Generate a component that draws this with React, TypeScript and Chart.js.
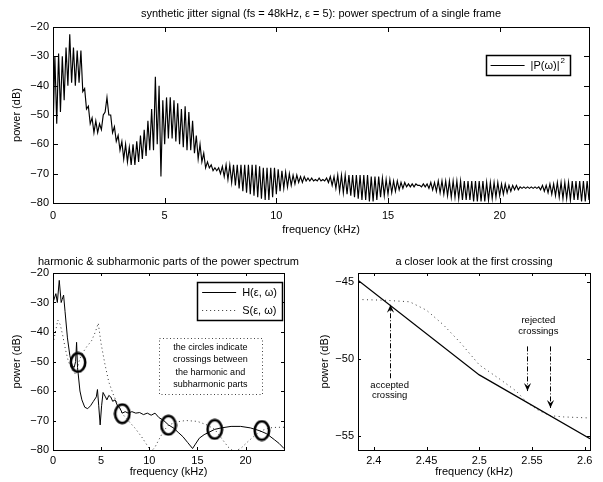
import React, { useEffect, useRef } from "react";
import { Chart, registerables } from "chart.js";

Chart.register(...registerables);

const FONT = "'Liberation Sans', Arial, Helvetica, sans-serif";

// ---------------- top panel data ----------------
const spectrumStepKHz = 1 / 12;
const spectrumDb = [
  -56, -30, -53, -29, -49, -30, -45, -27, -40, -22.5, -39, -27,
  -40, -28, -39, -28, -42, -41, -48, -47, -53, -51, -56, -52,
  -56, -53, -55, -50, -49, -44, -50, -50, -56, -54, -59, -57,
  -62, -59, -65, -60, -66, -61, -67, -60, -67, -59, -66, -57,
  -65, -55, -64, -52, -62, -48, -62, -37, -60, -40, -71, -45,
  -60, -44, -58, -44, -58, -45, -59, -46, -60, -48, -61, -47,
  -62, -49, -62, -52, -63, -57, -65, -60, -66, -63, -68, -66,
  -68, -67, -69, -68, -69, -68, -70, -67.5, -71, -67, -72, -67,
  -73, -67, -74, -67, -75, -67, -76, -67, -76.5, -67, -77, -67,
  -77.5, -67, -78, -67.5, -78.5, -68, -79, -68, -79, -68, -78, -68,
  -77, -68.5, -76, -69, -75, -69.5, -74.5, -70, -74, -70.5, -73.5, -70.5,
  -73, -71, -73, -71, -72.5, -71.5, -72.5, -71.5, -72.5, -72, -72.5, -71.5,
  -72.5, -72, -72.5, -71.5, -73, -71, -74, -71, -75, -70.5, -76, -70.5,
  -76.5, -70.5, -77, -70.5, -77.5, -70.5, -78, -70.5, -78.5, -70.5, -79, -70.5,
  -79, -70.5, -79.5, -71, -79.5, -71, -79, -71, -78, -71.5, -77.5, -72,
  -77, -72, -76.5, -72.5, -76, -72.5, -75.5, -73, -75, -73, -74.5, -73.5,
  -74.5, -73.5, -74.5, -73.5, -74, -74, -74.5, -73.5, -74.5, -73.5, -75, -73,
  -75.5, -73, -76, -72.5, -76.5, -72.5, -77, -72.5, -77.5, -72.5, -78, -72.5,
  -78, -72.5, -78.5, -72.5, -79, -72.5, -79, -72.5, -79, -72.5, -79.5, -72.5,
  -79.5, -72.5, -79.5, -72.5, -79.5, -73, -79, -73, -78.5, -73, -78, -73,
  -77.5, -73.5, -77, -73.5, -76.5, -74, -76, -74, -75.5, -74, -75.5, -74.5,
  -75, -74.5, -75, -74.5, -75, -74.5, -75, -74.5, -75, -74.5, -75.5, -74,
  -76, -74, -76.5, -73.5, -77, -73.5, -77.5, -73, -78, -73, -78.5, -73,
  -78.5, -73, -79, -72.5, -79, -72.5, -79, -72.5, -79.5, -72.5, -79.5, -72.5,
  -79,
];
const topXTicks = [0, 5, 10, 15, 20];
const topYTicks = [-80, -70, -60, -50, -40, -30, -20];

// ---------------- bottom-left panel data ----------------
const harmonicFreq = [
  0, 0.15, 0.3, 0.45, 0.65, 0.85, 0.95, 1.1, 1.25, 1.5, 1.75, 2.0, 2.2, 2.35, 2.45, 2.55,
  2.8, 3.0, 3.3, 3.6, 3.9, 4.2, 4.5, 4.62, 4.75, 4.9, 5.05, 5.2, 5.45, 5.6, 5.8, 6.0,
  6.2, 6.45, 6.7, 6.9, 7.2, 7.5, 7.8, 8.2, 8.6, 9.0, 9.4, 9.8, 10.2, 10.6, 11.0, 11.5,
  12.0, 12.5, 13.0, 13.5, 14.0, 14.5, 14.8, 15.2, 15.7, 16.2, 16.8, 17.5, 18.5, 19.5,
  20.5, 21.5, 22.2, 23.0, 23.5, 24.0,
];
const harmonicDb = [
  -30, -28.5, -27, -30, -22.5, -30, -29, -27.5, -33, -42, -48, -51.5, -52, -50, -43.5, -52,
  -60, -63, -65.5, -66, -65, -63.5, -62, -59.5, -65, -71.5, -65, -60.5, -62, -63, -61.5, -62,
  -63.5, -63, -65, -65.5, -67.5, -67, -67.5, -67, -67.5, -67.3, -68, -67.5, -68.2, -67.5, -69, -70,
  -71.5, -72.5, -74, -75.5, -77.5, -79.5, -78, -76, -74.8, -74, -73, -72.5, -72, -72,
  -72.5, -73.5, -74.5, -76.5, -77.8, -79.5,
];
const subharmonicFreq = [
  0, 0.25, 0.5, 0.75, 1.0, 1.3, 1.6, 2.0, 2.4, 2.7, 3.0, 3.5, 4.0, 4.4, 4.7, 5.0,
  5.4, 5.8, 6.3, 6.8, 7.2, 7.8, 8.5, 9.2, 9.8, 10.2, 10.6, 11.0, 11.5, 12.0, 12.8, 13.8,
  15.0, 16.0, 16.8, 17.5, 18.2, 18.8, 19.5, 20.3, 21.0, 21.7, 22.5, 23.3, 24.0,
];
const subharmonicDb = [
  -44, -40, -36, -37.5, -41, -46, -50, -53, -54.5, -50, -47.5, -45, -43, -40, -37, -44,
  -51, -57, -61.5, -65, -67.7, -70, -72.5, -75.5, -78.5, -80.5, -79, -76.5, -73.5, -71.6, -70.5, -70,
  -70.3, -71.5, -73, -76, -79, -80.5, -79.5, -77, -75, -73.4, -72.5, -72.3, -72.3,
];
const crossingFreq = [2.6, 7.2, 12.0, 16.8, 21.7];
const crossingDb = [-50.3, -67.7, -71.6, -73.0, -73.4];
const bottomYTicks = [-80, -70, -60, -50, -40, -30, -20];
const noteLines = [
  "the circles indicate",
  "crossings between",
  "the harmonic and",
  "subharmonic parts",
];

// ---------------- bottom-right panel data ----------------
const zoomHFreq = [2.385, 2.5, 2.605];
const zoomHDb = [-44.9, -51.05, -55.2];
const zoomSFreq = [2.385, 2.41, 2.434, 2.45, 2.466, 2.482, 2.5, 2.52, 2.535, 2.545, 2.556, 2.567, 2.58, 2.605];
const zoomSDb = [-46.15, -46.2, -46.3, -46.85, -47.8, -48.95, -50.4, -51.35, -52.1, -52.83, -53.35, -53.7, -53.78, -53.85];
const zoomXTicks = [2.4, 2.45, 2.5, 2.55, 2.6];
const zoomYTicks = [-55, -50, -45];
const acceptedCrossing = 2.415;
const rejectedCrossings = [2.545, 2.567];

// ---------------- helpers ----------------
const pts = (xs: number[], ys: number[]) => xs.map((x, i) => ({ x, y: ys[i] }));
const fmt = (v: number) => String(v).replace("-", "\u2212");

function makeRing(w: number, h: number, lw: number) {
  const c = document.createElement("canvas");
  c.width = w;
  c.height = h;
  const g = c.getContext("2d")!;
  g.strokeStyle = "#000";
  g.lineWidth = lw;
  g.beginPath();
  g.ellipse(w / 2, h / 2, w / 2 - lw / 2 - 0.5, h / 2 - lw / 2 - 0.5, 0, 0, Math.PI * 2);
  g.stroke();
  return c;
}

const framePlugin = {
  id: "matlabFrame",
  afterDatasetsDraw(chart: any, _a: any, opts: any) {
    const { ctx, chartArea: a, scales } = chart;
    const len = opts.tickLen ?? 4;
    ctx.save();
    ctx.strokeStyle = "#000";
    ctx.lineWidth = 1;
    ctx.beginPath();
    const xs = scales.x, ys = scales.y;
    xs.ticks.forEach((t: any) => {
      const px = Math.round(xs.getPixelForValue(t.value)) + 0.5;
      ctx.moveTo(px, a.bottom);
      ctx.lineTo(px, a.bottom - len);
      ctx.moveTo(px, a.top);
      ctx.lineTo(px, a.top + len);
    });
    ys.ticks.forEach((t: any) => {
      const py = Math.round(ys.getPixelForValue(t.value)) + 0.5;
      ctx.moveTo(a.left, py);
      ctx.lineTo(a.left + len, py);
      ctx.moveTo(a.right, py);
      ctx.lineTo(a.right - len, py);
    });
    ctx.stroke();
    ctx.strokeRect(Math.round(a.left) + 0.5, Math.round(a.top) + 0.5, Math.round(a.right - a.left), Math.round(a.bottom - a.top));
    if (opts.title) {
      ctx.fillStyle = "#000";
      ctx.font = `11px ${FONT}`;
      ctx.textAlign = "center";
      ctx.textBaseline = "middle";
      ctx.fillText(opts.title, (a.left + a.right) / 2, a.top - opts.titleOffset);
    }
    ctx.restore();
  },
};

function measureLabel(ctx: any, label: string) {
  const [base, sup] = label.split("^");
  ctx.font = `11px ${FONT}`;
  let w = ctx.measureText(base).width;
  if (sup) {
    ctx.font = `8px ${FONT}`;
    w += ctx.measureText(sup).width + 1;
  }
  return w;
}

const legendPlugin = {
  id: "boxLegend",
  afterDraw(chart: any, _a: any, opts: any) {
    if (!opts.items) return;
    const { ctx, chartArea: a } = chart;
    const ds = opts.items.map((i: number) => chart.data.datasets[i]);
    ctx.save();
    const textW = Math.max(...ds.map((d: any) => measureLabel(ctx, d.label)));
    const lineLen = 34, pad = 5, gap = 6, rowH = 18;
    const w = pad + lineLen + gap + textW + pad;
    const h = ds.length * rowH + 2;
    const right = a.right - opts.right;
    const top = a.top + opts.top;
    const left = right - w;
    ctx.fillStyle = "#fff";
    ctx.fillRect(left, top, w, h);
    ctx.strokeStyle = "#000";
    ctx.lineWidth = 1.5;
    ctx.strokeRect(Math.round(left) + 0.5, Math.round(top) + 0.5, Math.round(w), Math.round(h));
    ds.forEach((d: any, i: number) => {
      const cy = top + 1 + rowH / 2 + i * rowH;
      ctx.beginPath();
      ctx.strokeStyle = d.borderColor;
      ctx.lineWidth = d.borderWidth;
      ctx.setLineDash(d.borderDash || []);
      ctx.moveTo(left + pad, Math.round(cy) + 0.5);
      ctx.lineTo(left + pad + lineLen, Math.round(cy) + 0.5);
      ctx.stroke();
      ctx.setLineDash([]);
      const [base, sup] = d.label.split("^");
      ctx.fillStyle = "#000";
      ctx.textAlign = "left";
      ctx.textBaseline = "middle";
      ctx.font = `11px ${FONT}`;
      const tx = left + pad + lineLen + gap;
      ctx.fillText(base, tx, cy + 0.5);
      if (sup) {
        const bw = ctx.measureText(base).width;
        ctx.font = `8px ${FONT}`;
        ctx.fillText(sup, tx + bw + 1, cy - 4);
      }
    });
    ctx.restore();
  },
};

const notePlugin = {
  id: "noteBox",
  afterDraw(chart: any, _a: any, opts: any) {
    if (!opts.lines) return;
    const { ctx, scales } = chart;
    const x0 = scales.x.getPixelForValue(opts.x0);
    const x1 = scales.x.getPixelForValue(opts.x1);
    const y0 = scales.y.getPixelForValue(opts.y0);
    const y1 = scales.y.getPixelForValue(opts.y1);
    ctx.save();
    ctx.strokeStyle = "#444";
    ctx.lineWidth = 1;
    ctx.setLineDash([1, 2.5]);
    ctx.strokeRect(Math.round(x0) + 0.5, Math.round(y0) + 0.5, Math.round(x1 - x0), Math.round(y1 - y0));
    ctx.setLineDash([]);
    ctx.fillStyle = "#000";
    ctx.font = `9px ${FONT}`;
    ctx.textAlign = "center";
    ctx.textBaseline = "middle";
    const cx = (x0 + x1) / 2, cy = (y0 + y1) / 2;
    const n = opts.lines.length;
    opts.lines.forEach((t: string, i: number) => {
      ctx.fillText(t, cx, cy + (i - (n - 1) / 2) * 12.3);
    });
    ctx.restore();
  },
};

function arrow(ctx: any, x: number, yFrom: number, yTo: number) {
  ctx.beginPath();
  ctx.setLineDash([5, 2, 1, 2]);
  ctx.moveTo(x, yFrom);
  ctx.lineTo(x, yTo);
  ctx.stroke();
  ctx.setLineDash([]);
  const dir = yTo > yFrom ? 1 : -1;
  const L = 8, W = 3.6, notch = 3;
  ctx.beginPath();
  ctx.moveTo(x, yTo);
  ctx.lineTo(x - W, yTo - dir * L);
  ctx.lineTo(x, yTo - dir * (L - notch));
  ctx.lineTo(x + W, yTo - dir * L);
  ctx.closePath();
  ctx.fill();
}

const annotPlugin = {
  id: "crossAnnot",
  afterDraw(chart: any, _a: any, opts: any) {
    if (!opts.arrows) return;
    const { ctx, scales } = chart;
    const X = (v: number) => Math.round(scales.x.getPixelForValue(v)) + 0.5;
    const Y = (v: number) => scales.y.getPixelForValue(v);
    ctx.save();
    ctx.strokeStyle = "#000";
    ctx.fillStyle = "#000";
    ctx.lineWidth = 1;
    opts.arrows.forEach((ar: any) => arrow(ctx, X(ar.x), Y(ar.from), Y(ar.to)));
    ctx.font = `9.5px ${FONT}`;
    ctx.textAlign = "center";
    ctx.textBaseline = "middle";
    opts.texts.forEach((t: any) => ctx.fillText(t.text, scales.x.getPixelForValue(t.x), Y(t.y)));
    ctx.restore();
  },
};

const tickFont = { family: FONT, size: 11 };

function axis(opts: {
  min: number; max: number; ticks: number[]; size: number; horizontal: boolean;
  title: string; titlePad: number; tickPad: number;
}) {
  return {
    type: "linear",
    min: opts.min,
    max: opts.max,
    grid: { display: false, drawTicks: false, tickLength: 0 },
    border: { display: false },
    afterBuildTicks: (s: any) => {
      s.ticks = opts.ticks.map((v) => ({ value: v }));
    },
    afterFit: (s: any) => {
      if (opts.horizontal) s.height = opts.size;
      else s.width = opts.size;
    },
    ticks: {
      color: "#000",
      font: tickFont,
      padding: opts.tickPad,
      maxRotation: 0,
      autoSkip: false,
      callback: (v: any) => fmt(v),
    },
    title: {
      display: true,
      text: opts.title,
      color: "#000",
      font: { family: FONT, size: 11 },
      padding: opts.horizontal ? { top: 0, bottom: opts.titlePad } : { top: opts.titlePad, bottom: 0 },
    },
  };
}

function useChart(ref: any, makeConfig: () => any) {
  useEffect(() => {
    const chart = new Chart(ref.current, makeConfig());
    return () => chart.destroy();
  }, []);
}

const baseOptions = {
  responsive: false,
  animation: false,
  devicePixelRatio: 1,
  events: [],
};

export default function App() {
  const topRef = useRef<HTMLCanvasElement>(null);
  const blRef = useRef<HTMLCanvasElement>(null);
  const brRef = useRef<HTMLCanvasElement>(null);

  useChart(topRef, () => ({
    type: "scatter",
    data: {
      datasets: [
        {
          label: "|P(\u03c9)|^2",
          data: spectrumDb.map((v, i) => ({ x: i * spectrumStepKHz, y: v })),
          showLine: true,
          borderColor: "#000",
          borderWidth: 1.15,
          pointRadius: 0,
          tension: 0,
        },
      ],
    },
    options: {
      ...baseOptions,
      layout: { padding: { left: 0, right: 14, top: 27, bottom: 0 } },
      plugins: {
        legend: { display: false },
        tooltip: { enabled: false },
        matlabFrame: {
          tickLen: 5,
          title: "synthetic jitter signal (fs = 48kHz, \u03b5 = 5): power spectrum of a single frame",
          titleOffset: 13.5,
        },
        boxLegend: { items: [0], right: 19, top: 28 },
      },
      scales: {
        x: axis({ min: 0, max: 24, ticks: topXTicks, size: 37, horizontal: true, title: "frequency (kHz)", titlePad: 3.4, tickPad: 6 }),
        y: axis({ min: -80, max: -20, ticks: topYTicks, size: 53, horizontal: false, title: "power (dB)", titlePad: 10.4, tickPad: 4 }),
      },
    },
    plugins: [framePlugin, legendPlugin],
  }));

  useChart(blRef, () => ({
    type: "scatter",
    data: {
      datasets: [
        {
          label: "H(\u03b5, \u03c9)",
          data: pts(harmonicFreq, harmonicDb),
          showLine: true,
          borderColor: "#000",
          borderWidth: 1,
          pointRadius: 0,
          tension: 0,
        },
        {
          label: "S(\u03b5, \u03c9)",
          data: pts(subharmonicFreq, subharmonicDb),
          showLine: true,
          borderColor: "#333",
          borderWidth: 1,
          borderDash: [1, 3],
          pointRadius: 0,
          tension: 0,
        },
        {
          label: "crossings",
          data: pts(crossingFreq, crossingDb),
          showLine: false,
          pointStyle: makeRing(18, 22, 2.6),
          pointRadius: 10,
        },
      ],
    },
    options: {
      ...baseOptions,
      layout: { padding: { left: 0, right: 16, top: 33, bottom: 0 } },
      plugins: {
        legend: { display: false },
        tooltip: { enabled: false },
        matlabFrame: {
          tickLen: 3,
          title: "harmonic & subharmonic parts of the power spectrum",
          titleOffset: 11,
        },
        boxLegend: { items: [0, 1], right: 2, top: 9 },
        noteBox: { x0: 11.0, x1: 21.7, y0: -42, y1: -61, lines: noteLines },
      },
      scales: {
        x: axis({ min: 0, max: 24, ticks: topXTicks, size: 32, horizontal: true, title: "frequency (kHz)", titlePad: 3.6, tickPad: 4 }),
        y: axis({ min: -80, max: -20, ticks: bottomYTicks, size: 53, horizontal: false, title: "power (dB)", titlePad: 10.4, tickPad: 4 }),
      },
    },
    plugins: [framePlugin, legendPlugin, notePlugin],
  }));

  useChart(brRef, () => ({
    type: "scatter",
    data: {
      datasets: [
        {
          label: "H(\u03b5, \u03c9)",
          data: pts(zoomHFreq, zoomHDb),
          showLine: true,
          borderColor: "#000",
          borderWidth: 1.2,
          pointRadius: 0,
          tension: 0,
        },
        {
          label: "S(\u03b5, \u03c9)",
          data: pts(zoomSFreq, zoomSDb),
          showLine: true,
          borderColor: "#333",
          borderWidth: 1,
          borderDash: [1, 3.5],
          pointRadius: 0,
          tension: 0,
        },
      ],
    },
    options: {
      ...baseOptions,
      layout: { padding: { left: 0, right: 13, top: 33, bottom: 0 } },
      plugins: {
        legend: { display: false },
        tooltip: { enabled: false },
        matlabFrame: { tickLen: 3, title: "a closer look at the first crossing", titleOffset: 11 },
        crossAnnot: {
          arrows: [
            { x: acceptedCrossing, from: -51.27, to: -46.5 },
            { x: rejectedCrossings[0], from: -49.2, to: -52.1 },
            { x: rejectedCrossings[1], from: -49.2, to: -53.2 },
          ],
          texts: [
            { x: acceptedCrossing, y: -51.7, text: "accepted" },
            { x: acceptedCrossing, y: -52.37, text: "crossing" },
            { x: 2.556, y: -47.48, text: "rejected" },
            { x: 2.556, y: -48.2, text: "crossings" },
          ],
        },
      },
      scales: {
        x: axis({ min: 2.385, max: 2.605, ticks: zoomXTicks, size: 32, horizontal: true, title: "frequency (kHz)", titlePad: 3.6, tickPad: 4 }),
        y: axis({ min: -55.93, max: -44.43, ticks: zoomYTicks, size: 58, horizontal: false, title: "power (dB)", titlePad: 18.4, tickPad: 4 }),
      },
    },
    plugins: [framePlugin, annotPlugin],
  }));

  return (
    <div style={{ position: "absolute", left: 0, top: 0, width: 603, height: 482, background: "#fff", overflow: "hidden" }}>
      <canvas ref={topRef} width={603} height={240} style={{ position: "absolute", left: 0, top: 0, width: 603, height: 240 }} />
      <canvas ref={blRef} width={300} height={242} style={{ position: "absolute", left: 0, top: 240, width: 300, height: 242 }} />
      <canvas ref={brRef} width={303} height={242} style={{ position: "absolute", left: 300, top: 240, width: 303, height: 242 }} />
    </div>
  );
}
